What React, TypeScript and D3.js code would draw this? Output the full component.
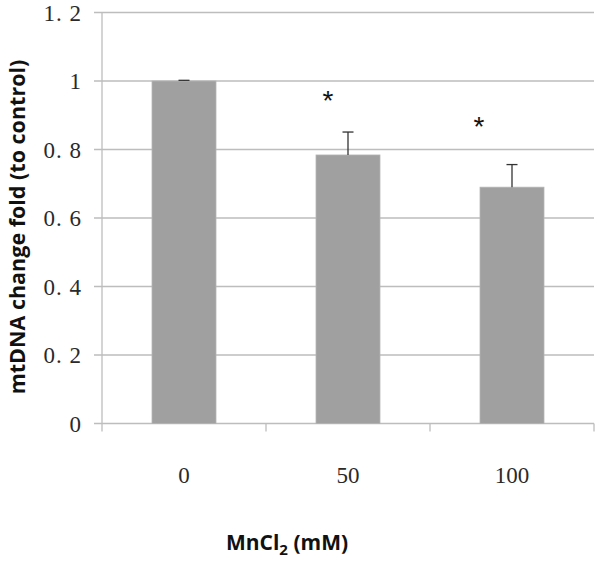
import React from "react";
import * as d3 from "d3";

const categories = ["0", "50", "100"];
const values = [1.0, 0.784, 0.69];
const errors = [0.002, 0.067, 0.066];
const yTicks = [0, 0.2, 0.4, 0.6, 0.8, 1.0, 1.2];
const starCategories = ["50", "100"];
const starValues = [0.963, 0.887];

const W = 600;
const H = 563;
const left = 102;
const right = 594;
const top = 12.5;
const bottom = 423.5;

const fmt = (d: number) => {
  if (d === 0) return "0";
  if (Math.abs(d - 1) < 1e-9) return "1";
  return d.toFixed(1).replace(".", ". ");
};

export default function App() {
  const x = d3.scaleBand<string>().domain(categories).range([left, right]).paddingInner(0.61).paddingOuter(0.305);
  const xc = d3.scaleBand<string>().domain(categories).range([left, right]);
  const y = d3.scaleLinear().domain([0, 1.2]).range([bottom, top]);
  const bw = x.bandwidth();
  const starOffsets = [-20, -33];
  const grid = "#bdbdbd";
  const serif = "'Liberation Serif', 'DejaVu Serif', serif";
  return (
    <svg width={W} height={H} style={{ position: "absolute", left: 0, top: 0, background: "#fff" }}>
      {yTicks.map((t) => (
        <g key={t}>
          <line x1={left - 8} x2={right} y1={y(t)} y2={y(t)} stroke={grid} strokeWidth={1.3} />
          <text x={82} y={y(t) + 8} textAnchor="end" fontFamily={serif} fontSize={23} letterSpacing={1} fill="#2a2a2a">
            {fmt(t)}
          </text>
        </g>
      ))}
      <line x1={left} x2={left} y1={top} y2={bottom} stroke={grid} strokeWidth={1.3} />
      {categories.map((c) => (
        <line key={"t" + c} x1={xc(c)! + xc.bandwidth()} x2={xc(c)! + xc.bandwidth()} y1={bottom} y2={bottom + 8} stroke={grid} strokeWidth={1.3} />
      ))}
      <line x1={left} x2={left} y1={bottom} y2={bottom + 8} stroke={grid} strokeWidth={1.3} />
      {categories.map((c, i) => {
        const cx = x(c)! + bw / 2;
        return (
          <g key={c}>
            <rect x={x(c)} y={y(values[i])} width={bw} height={y(0) - y(values[i])} fill="#a0a0a0" stroke="#b4b4b4" strokeWidth={0.8} />
            <line x1={cx} x2={cx} y1={y(values[i])} y2={y(values[i] + errors[i])} stroke="#333" strokeWidth={1.3} />
            <line x1={cx - 5.5} x2={cx + 5.5} y1={y(values[i] + errors[i])} y2={y(values[i] + errors[i])} stroke="#333" strokeWidth={1.3} />
            <text x={xc(c)! + xc.bandwidth() / 2} y={483} textAnchor="middle" fontFamily={serif} fontSize={23} fill="#2a2a2a">
              {c}
            </text>
          </g>
        );
      })}
      {starCategories.map((c, i) => (
        <text key={"s" + c} x={x(c)! + bw / 2 + starOffsets[i]} y={y(starValues[i]) + 16} textAnchor="middle" fontFamily="'Liberation Sans', Arial, sans-serif" fontSize={28} fill="#111">
          *
        </text>
      ))}
      <text transform={`translate(25, 227) rotate(-90)`} textAnchor="middle" fontFamily="'Open Sans', sans-serif" fontWeight="bold" fontSize={21.5} fill="#111">
        mtDNA change fold (to control)
      </text>
      <text x={287} y={550} textAnchor="middle" fontFamily="'Open Sans', sans-serif" fontWeight="bold" fontSize={21} fill="#111">
        MnCl<tspan fontSize={15} dy={5}>2</tspan>
        <tspan dy={-5}> (mM)</tspan>
      </text>
    </svg>
  );
}
